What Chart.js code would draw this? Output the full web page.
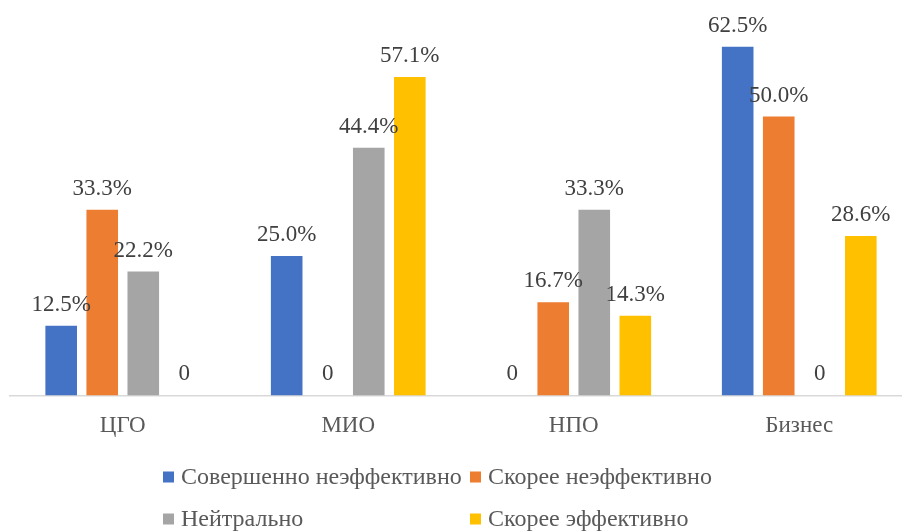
<!DOCTYPE html>
<html>
<head>
<meta charset="utf-8">
<script src="https://cdn.jsdelivr.net/npm/chart.js@4.4.1/dist/chart.umd.min.js"></script>
<style>
  html, body { margin: 0; padding: 0; background: #fff; overflow: hidden; }
  #wrap { position: relative; width: 902px; height: 531px; overflow: hidden; }
  #wrap canvas { position: absolute; left: 0; top: 0; }
</style>
</head>
<body>
<div id="wrap"><canvas id="chart" width="912" height="531"></canvas></div>
<script>
const categories = ['ЦГО', 'МИО', 'НПО', 'Бизнес'];
const seriesNames = ['Совершенно неэффективно', 'Скорее неэффективно', 'Нейтрально', 'Скорее эффективно'];
const seriesColors = ['#4472C4', '#ED7D31', '#A5A5A5', '#FFC000'];

// percent per category
const totallyIneffective = [12.5, 25.0, 0, 62.5];
const ratherIneffective = [33.3, 0, 16.7, 50.0];
const neutral = [22.2, 44.4, 33.3, 0];
const ratherEffective = [0, 57.1, 14.3, 28.6];

const FONT = '"Liberation Serif", "Times New Roman", serif';

const allSeries = [totallyIneffective, ratherIneffective, neutral, ratherEffective];

// value labels above each bar ("0" for empty bars)
const valueLabels = {
  id: 'valueLabels',
  afterDatasetsDraw(chart) {
    const ctx = chart.ctx;
    ctx.save();
    ctx.font = '23px ' + FONT;
    ctx.fillStyle = '#404040';
    ctx.textAlign = 'center';
    ctx.textBaseline = 'alphabetic';
    chart.data.datasets.forEach((ds, i) => {
      const meta = chart.getDatasetMeta(i);
      meta.data.forEach((bar, j) => {
        const v = ds.data[j];
        const text = v === 0 ? '0' : v.toFixed(1) + '%';
        ctx.fillText(text, bar.x, bar.y - 15);
      });
    });
    ctx.restore();
  }
};

// two-column legend under the axis
const gridLegend = {
  id: 'gridLegend',
  afterDraw(chart) {
    const ctx = chart.ctx;
    const cols = [163, 470];
    const rows = [477, 519];
    ctx.save();
    ctx.font = '24px ' + FONT;
    ctx.textBaseline = 'middle';
    ctx.textAlign = 'left';
    chart.data.datasets.forEach((ds, i) => {
      const x = cols[i % 2];
      const y = rows[Math.floor(i / 2)];
      ctx.fillStyle = ds.backgroundColor;
      ctx.fillRect(x, y - 5.5, 11, 11);
      ctx.fillStyle = '#595959';
      ctx.fillText(ds.label, x + 18, y + 1);
    });
    ctx.restore();
  }
};

new Chart(document.getElementById('chart'), {
  type: 'bar',
  data: {
    labels: categories,
    datasets: allSeries.map((values, i) => ({
      label: seriesNames[i],
      data: values,
      backgroundColor: seriesColors[i],
      borderWidth: 0,
      categoryPercentage: 0.728,
      barPercentage: 0.77
    }))
  },
  options: {
    responsive: false,
    animation: false,
    layout: { padding: { left: 10, right: 0, top: 5, bottom: 82 } },
    plugins: {
      legend: { display: false },
      tooltip: { enabled: false }
    },
    scales: {
      x: {
        grid: { display: false },
        border: { display: true, color: '#D9D9D9', width: 1.5 },
        ticks: {
          color: '#595959',
          padding: 9,
          font: { family: FONT, size: 23 }
        }
      },
      y: {
        display: false,
        min: 0,
        max: 70
      }
    }
  },
  plugins: [valueLabels, gridLegend]
});
</script>
</body>
</html>
